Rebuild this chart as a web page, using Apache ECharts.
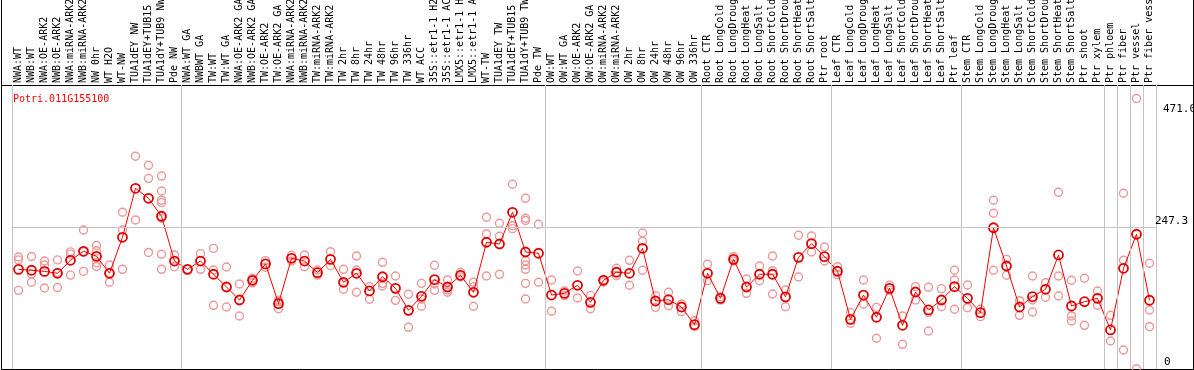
<!DOCTYPE html>
<html>
<head>
<meta charset="utf-8">
<script src="https://cdn.jsdelivr.net/npm/echarts@6/dist/echarts.min.js"></script>
<style>html,body{margin:0;padding:0;background:#fff}#c{width:1194px;height:370px}</style>
</head>
<body>
<div id="c"></div>
<script>
const chartTitle = 'Potri.011G155100';

const categories = [
  'NWA:WT','NWB:WT','NWA:OE-ARK2','NWB:OE-ARK2','NWA:miRNA-ARK2','NWB:miRNA-ARK2','NW 0hr','WT H2O','WT-NW','TUA1dEY NW','TUA1dEY+TUB15 NW','TUA1dY+TUB9 NW','Pde NW',
  'NWA:WT GA','NWBWT GA','TW:WT','TW:WT GA','NWA:OE-ARK2 GA','NWB:OE-ARK2 GA','TW:OE-ARK2','TW:OE-ARK2 GA','NWA:miRNA-ARK2 GA','NWB:miRNA-ARK2 GA','TW:miRNA-ARK2','TW:miRNA-ARK2 GA','TW 2hr','TW 8hr','TW 24hr','TW 48hr','TW 96hr','TW 336hr','WT ACC','35S::etr1-1 H2O','35S::etr1-1 ACC','LMX5::etr1-1 H2O','LMX5::etr1-1 ACC','WT-TW','TUA1dEY TW','TUA1dEY+TUB15 TW','TUA1dY+TUB9 TW','Pde TW',
  'OW:WT','OW:WT GA','OW:OE-ARK2','OW:OE-ARK2 GA','OW:miRNA-ARK2','OW:miRNA-ARK2 GA','OW 2hr','OW 8hr','OW 24hr','OW 48hr','OW 96hr','OW 336hr',
  'Root CTR','Root LongCold','Root LongDrought','Root LongHeat','Root LongSalt','Root ShortCold','Root ShortDrought','Root ShortHeat','Root ShortSalt','Ptr root',
  'Leaf CTR','Leaf LongCold','Leaf LongDrought','Leaf LongHeat','Leaf LongSalt','Leaf ShortCold','Leaf ShortDrought','Leaf ShortHeat','Leaf ShortSalt','Ptr leaf',
  'Stem CTR','Stem LongCold','Stem LongDrought','Stem LongHeat','Stem LongSalt','Stem ShortCold','Stem ShortDrought','Stem ShortHeat','Stem ShortSalt','Ptr shoot','Ptr xylem',
  'Ptr phloem','Ptr fiber','Ptr vessel','Ptr fiber vessel'
];

const means = [
  173.6,172,170,166.7,189.3,205,196.2,166.7,229.4,314.7,297.3,266,188,
  173.6,188,165,142.8,120.2,154.5,183,113.8,192.8,188,167.8,191,151,166.7,135.9,160.7,140.5,102.2,126.6,155.6,142.8,163.2,133.6,220.7,217.7,272.9,203.8,201.6,
  128.8,131.8,145.8,116.1,154.5,168.5,166.7,210.2,118.4,120.7,108,77.2,
  166.7,123.1,191,142.8,165,165,125.5,194.5,218.3,195.6,
  170.2,86.5,128.8,90.1,140.5,76.1,134.1,102.8,120.2,143.4,
  123.1,98.1,246,179.4,108,126,138.8,198.6,109.7,117.2,123.1,
  68,175.4,234.7,119.7
];

const replicates = [
  [195,190,137],[196,165.5,151],[188,181,141],[190,168,142],[204,200,163.5],[242,204,170],[215,206,185,178.5],[181,167,151],[273,242,173.6],[370.5,259.6],[354.8,332,203],[336,310,294,289.7,262.5,199.8,173.6],[198.6,178.2],
  [173.6],[200.9,173.6],[210,172.4,110.9],[177.7,108],[148,92.3],[158,154,150],[188.7,177.2],[120,117,105],[198,188],[198.6,178.2],[172.4,163.6],[204.3,180],[173.6,150,138.8],[196.8,172.4,133.6],[143.4,121.4],[185.8,149.2,144.6],[162,119.6],[130.1,72.6],[149.2,121.9,109.2],[180.7,148,137],[155,137.6,133.6],[168.5,160.2],[151,143.4,109.2],[264.3,235.2,162],[253.8,231.1,164.9],[321.7,249.6,244.4],[297.3,262.6,258.7,188.7,181.1,173.6,149.2,121.9],[252,151],
  [155,100.5],[135.9,127.6],[170.7,123.7],[128.3,105],[155.6,151.6],[175.4,162.5],[189.3,145.8],[236.8,222.5,172],[127.6,107.4],[133.6,110.3],[113.3,99.8],[84.1,73.7],
  [182.3,153.8],[126,120],[195.6,188.1],[156.8,131.8],[179.4,153.8],[196.8,171.2,130.6],[137.6,108.5],[232.9,160.2],[231.7,203.8],[212.5,188.1],
  [178.2,164.3],[98.1,79.6],[155,112.7],[107.4,53.5],[146,137],[92.4,43],[143.4,120.2],[142.3,98.7,66.2],[139.9,108.5],[172,155,104],
  [146.3,106.8],[104,91.2],[293.8,271.2,172],[191,163.2],[118.9,93.5],[162,120.2,99.3],[150.3,124.9],[307.8,162,127.1],[154.5,92.4,83.6],[158,76.1],[135.9,111],
  [93.5,48.8],[306,189.3,33.1],[471,0.5],[184.1,102.8,73.7]
];

const groupBoundaries = [0,13,41,53,63,73,84,85,86,87,88];
const yTickValues = [0, 247.3, 471.0];
const yTickLabels = ['0', '247.3', '471.0'];

const replicatePoints = [];
replicates.forEach((vals, i) => vals.forEach(v => replicatePoints.push([i, v])));

const FONT = 'DejaVu Sans Mono';
const chart = echarts.init(document.getElementById('c'), null, {renderer: 'canvas'});

const yLabelStyles = [
  {verticalAlign: 'bottom', padding: [0, 0, 1, 0], distance: 8, lineColor: 'rgba(0,0,0,0)'},
  {verticalAlign: 'bottom', padding: [0, 0, 0, 0], distance: -1, lineColor: '#c4c4c4'},
  {verticalAlign: 'top', padding: [5, 0, 0, 0], distance: 7, lineColor: 'rgba(0,0,0,0)'}
];

chart.setOption({
  animation: false,
  backgroundColor: '#fff',
  title: {
    text: chartTitle, left: 8, top: 89,
    textStyle: {color: '#ff0000', fontFamily: FONT, fontSize: 10, fontWeight: 'normal'}
  },
  grid: {left: 12, right: 38, top: 85, bottom: 1, containLabel: false, outerBoundsMode: 'none'},
  xAxis: [
    {
      type: 'category', data: categories, position: 'top', boundaryGap: true,
      axisLine: {show: false}, axisTick: {show: false}, splitLine: {show: false},
      axisLabel: {interval: 0, rotate: 90, margin: 2, fontFamily: FONT, fontSize: 10, color: '#000', hideOverlap: false}
    },
    {type: 'value', min: 0, max: 88, show: false}
  ],
  yAxis: {type: 'value', min: 0, max: 494.6, show: false, splitLine: {show: false}},
  graphic: [
    {type: 'line', silent: true, shape: {x1: 1.5, y1: 0, x2: 1.5, y2: 370}, style: {stroke: '#000', lineWidth: 1}},
    {type: 'line', silent: true, shape: {x1: 1193.5, y1: 0, x2: 1193.5, y2: 370}, style: {stroke: '#000', lineWidth: 1}},
    {type: 'line', silent: true, shape: {x1: 1, y1: 85.5, x2: 1194, y2: 85.5}, style: {stroke: '#000', lineWidth: 1}},
    {type: 'line', silent: true, shape: {x1: 1, y1: 369.5, x2: 1194, y2: 369.5}, style: {stroke: '#000', lineWidth: 1}}
  ],
  series: [
    {
      type: 'scatter', xAxisIndex: 1, yAxisIndex: 0, data: [], silent: true,
      markLine: {
        silent: true, symbol: 'none', animation: false,
        label: {show: false},
        lineStyle: {color: '#c4c4c4', type: 'solid', width: 1},
        data: groupBoundaries.map(b => ({xAxis: b}))
      }
    },
    {
      name: 'replicates', type: 'scatter', xAxisIndex: 0, yAxisIndex: 0, z: 2,
      data: replicatePoints, symbol: 'circle', symbolSize: 8,
      itemStyle: {color: 'rgba(0,0,0,0)', borderColor: '#ec9898', borderWidth: 1.4, opacity: 1}
    },
    {
      name: 'mean', type: 'line', xAxisIndex: 0, yAxisIndex: 0, z: 3,
      data: means, symbol: 'circle', symbolSize: 9, showAllSymbol: true,
      lineStyle: {color: '#ff0000', width: 1},
      itemStyle: {color: 'rgba(0,0,0,0)', borderColor: '#e00000', borderWidth: 1.8},
      markLine: {
        silent: true, symbol: 'none', animation: false,
        data: yTickValues.map((v, i) => ({
          yAxis: v,
          lineStyle: {color: yLabelStyles[i].lineColor, type: 'solid', width: 1},
          label: {
            show: true, position: 'end', formatter: yTickLabels[i],
            fontFamily: FONT, fontSize: 11, color: '#000',
            align: 'left',
            verticalAlign: yLabelStyles[i].verticalAlign,
            padding: yLabelStyles[i].padding,
            distance: yLabelStyles[i].distance
          }
        }))
      }
    }
  ]
});
</script>
</body>
</html>
